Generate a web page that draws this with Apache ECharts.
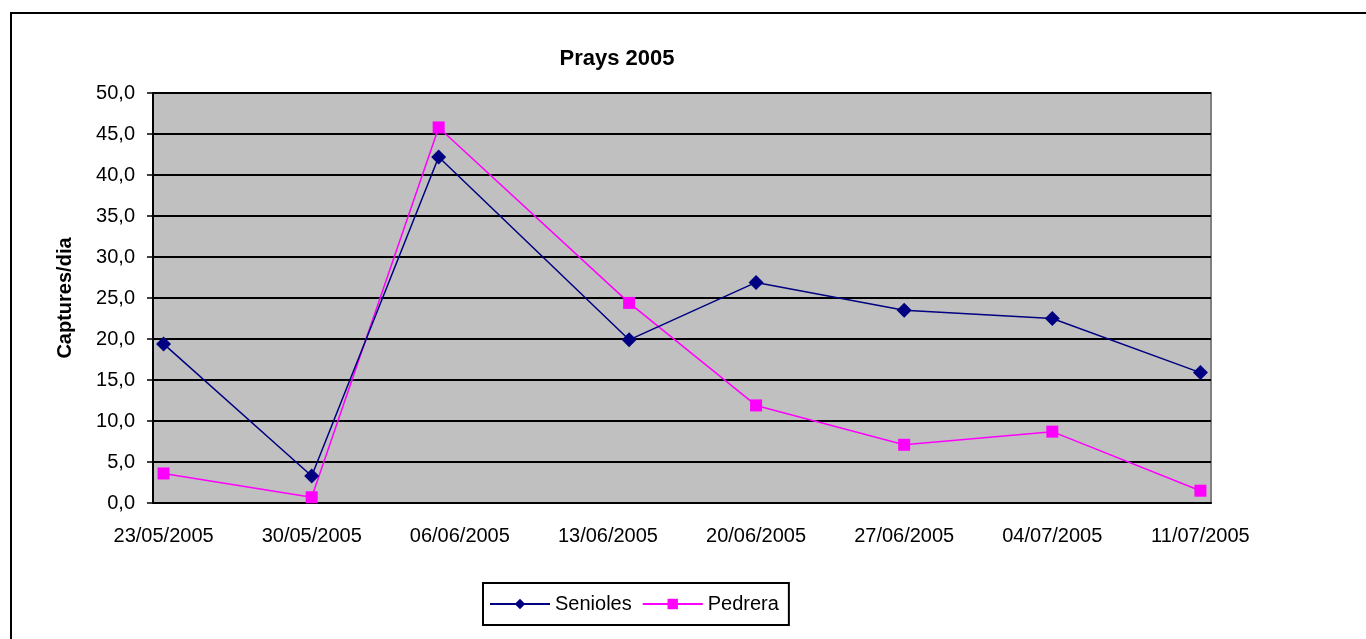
<!DOCTYPE html>
<html>
<head>
<meta charset="utf-8">
<script src="https://cdn.jsdelivr.net/npm/echarts@6/dist/echarts.min.js"></script>
<style>
html, body { margin: 0; padding: 0; background: #fff; }
#main { width: 1366px; height: 639px; }
</style>
</head>
<body>
<div id="main"></div>
<script>
// dates of the samples and the values
var sampleDates = ['23/05/2005', '30/05/2005', '05/06/2005', '14/06/2005', '20/06/2005', '27/06/2005', '04/07/2005', '11/07/2005'];
var senioles = [19.4, 3.3, 42.2, 19.9, 26.9, 23.5, 22.5, 15.9];
var pedrera = [3.6, 0.7, 45.8, 24.4, 11.9, 7.1, 8.7, 1.5];
var seriesNames = ['Senioles', 'Pedrera'];
var firstDay = '23/05/2005';
var lastDay = '11/07/2005';

function pad(n) { return (n < 10 ? '0' : '') + n; }
function parseDay(s) {
    var p = s.split('/');
    return Date.UTC(+p[2], +p[1] - 1, +p[0]);
}
// one category per day, like the excel date axis
var days = [];
for (var t = parseDay(firstDay); t <= parseDay(lastDay); t += 86400000) {
    var d = new Date(t);
    days.push(pad(d.getUTCDate()) + '/' + pad(d.getUTCMonth() + 1) + '/' + d.getUTCFullYear());
}

function pairs(vals) {
    return sampleDates.map(function (s, i) { return [s, vals[i]]; });
}

var myChart = echarts.init(document.getElementById('main'));
var font = 'Arial, "Liberation Sans", sans-serif';

var option = {
    animation: false,
    backgroundColor: '#fff',
    textStyle: { fontFamily: font },
    graphic: [{
        type: 'rect',
        shape: { x: 11, y: 13, width: 1400, height: 700 },
        style: { fill: 'none', stroke: '#000', lineWidth: 2 },
        z: 100
    }],
    title: {
        text: 'Prays 2005',
        left: 612,
        textAlign: 'center',
        top: 43,
        textStyle: { fontFamily: font, fontSize: 22, fontWeight: 'bold', color: '#000' }
    },
    legend: {
        data: seriesNames,
        left: 483,
        top: 583,
        padding: [11, 10, 11, 6],
        itemGap: 10,
        itemWidth: 60,
        itemHeight: 13,
        borderColor: '#000',
        borderWidth: 2,
        backgroundColor: '#fff',
        textStyle: { fontFamily: font, fontSize: 20, color: '#000' }
    },
    grid: {
        left: 153,
        right: 155,
        top: 93,
        bottom: 136,
        show: true,
        backgroundColor: '#c0c0c0',
        borderColor: '#808080',
        borderWidth: 2
    },
    xAxis: {
        type: 'category',
        data: days,
        boundaryGap: true,
        axisLine: { lineStyle: { color: '#000', width: 2 } },
        axisTick: { interval: 6, length: 6, lineStyle: { color: '#000', width: 1.5 } },
        axisLabel: { interval: 6, margin: 23, color: '#000', fontSize: 20, fontFamily: font },
        splitLine: { show: false }
    },
    yAxis: {
        type: 'value',
        min: 0,
        max: 50,
        interval: 5,
        name: 'Captures/dia',
        nameLocation: 'middle',
        nameGap: 78,
        nameTextStyle: { fontFamily: font, fontSize: 20, fontWeight: 'bold', color: '#000' },
        axisLine: { show: true, lineStyle: { color: '#000', width: 2 } },
        axisTick: { show: true, length: 6, lineStyle: { color: '#000', width: 1.5 } },
        axisLabel: {
            margin: 18,
            color: '#000',
            fontSize: 20,
            fontFamily: font,
            formatter: function (v) { return v.toFixed(1).replace('.', ','); }
        },
        splitLine: { show: true, lineStyle: { color: '#000', width: 2 } }
    },
    series: [
        {
            name: seriesNames[0],
            type: 'line',
            data: pairs(senioles),
            symbol: 'diamond',
            symbolSize: 15,
            showAllSymbol: true,
            color: '#000080',
            lineStyle: { width: 1.5, color: '#000080' },
            itemStyle: { color: '#000080' },
            z: 3
        },
        {
            name: seriesNames[1],
            type: 'line',
            data: pairs(pedrera),
            symbol: 'rect',
            symbolSize: 12,
            showAllSymbol: true,
            color: '#ff00ff',
            lineStyle: { width: 1.5, color: '#ff00ff' },
            itemStyle: { color: '#ff00ff' },
            z: 2
        }
    ]
};
myChart.setOption(option);
</script>
</body>
</html>
